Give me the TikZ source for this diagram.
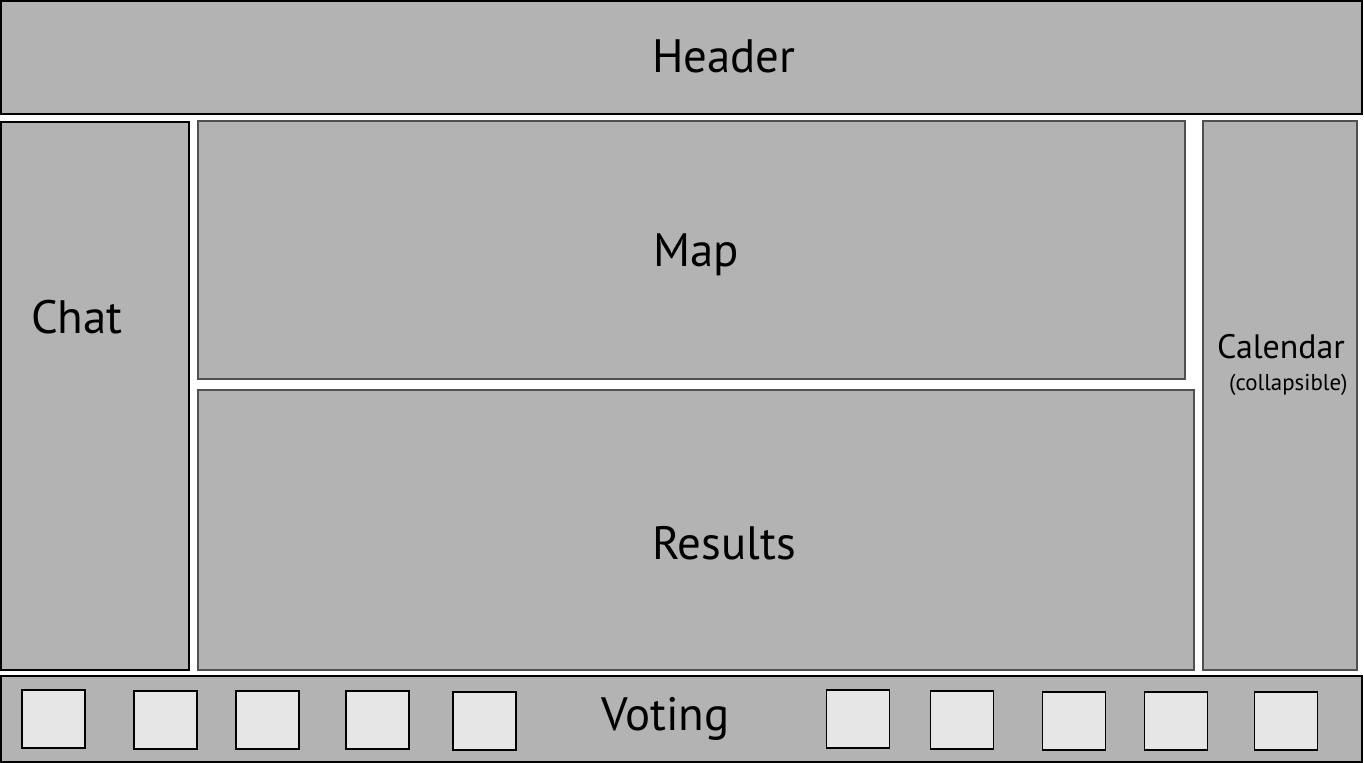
\documentclass[tikz,border=0pt]{standalone}
\usepackage{fontspec}
\setmainfont{PT Sans}
\usepackage{tikz}
\usetikzlibrary{shapes}

\definecolor{panelgray}{RGB}{179,179,179}
\definecolor{slotgray}{RGB}{230,230,230}
\definecolor{edgegray}{RGB}{80,80,80}

\tikzset{
  panel/.style={draw=black,fill=panelgray,line width=1.3bp,inner sep=0pt},
  softpanel/.style={panel,draw=edgegray},
  slot/.style={draw=black,fill=slotgray,line width=1.3bp,inner sep=0pt,minimum width=63bp,minimum height=58bp},
  bigtext/.style={anchor=base west,inner sep=0pt,font=\fontsize{47}{56}\selectfont},
  midtext/.style={anchor=base west,inner sep=0pt,font=\fontsize{34}{40}\selectfont},
  smalltext/.style={anchor=base west,inner sep=0pt,font=\fontsize{23}{27}\selectfont}
}

\begin{document}
\begin{tikzpicture}

\useasboundingbox [fill=white] (0bp,0bp) rectangle (1364bp,-763bp);

\node (header) at (681.5bp,-57.5bp)[panel,minimum width=1361bp,minimum height=113bp] {};
\node (chat) at (95bp,-396bp)[panel,minimum width=188bp,minimum height=548bp] {};
\node (map) at (691.5bp,-250bp)[softpanel,minimum width=987bp,minimum height=258bp] {};
\node (results) at (696bp,-530bp)[softpanel,minimum width=996bp,minimum height=280bp] {};
\node (calendar) at (1280bp,-395.5bp)[softpanel,minimum width=154bp,minimum height=549bp] {};
\node (voting) at (681.5bp,-719bp)[panel,minimum width=1361bp,minimum height=86bp] {};

\node (headerlabel) at (652bp,-72bp)[bigtext] {Header};
\node (maplabel) at (653bp,-266bp)[bigtext] {Map};
\node (chatlabel) at (31bp,-333bp)[bigtext] {Chat};
\node (resultslabel) at (652bp,-559bp)[bigtext] {Results};
\node (votinglabel) at (601bp,-730bp)[bigtext] {Voting};
\node (calendarlabel) at (1217bp,-358bp)[midtext] {Calendar};
\node (collapselabel) at (1229bp,-390bp)[smalltext] {(collapsible)};

\node (vote1) at (53.5bp,-719bp)[slot] {};
\node (vote2) at (165.5bp,-720bp)[slot] {};
\node (vote3) at (267.5bp,-720bp)[slot] {};
\node (vote4) at (377.5bp,-720bp)[slot] {};
\node (vote5) at (484.5bp,-721bp)[slot] {};
\node (vote6) at (858bp,-719bp)[slot] {};
\node (vote7) at (962bp,-720bp)[slot] {};
\node (vote8) at (1074bp,-721bp)[slot] {};
\node (vote9) at (1176bp,-721bp)[slot] {};
\node (vote10) at (1286bp,-721bp)[slot] {};
\end{tikzpicture}
\end{document}
